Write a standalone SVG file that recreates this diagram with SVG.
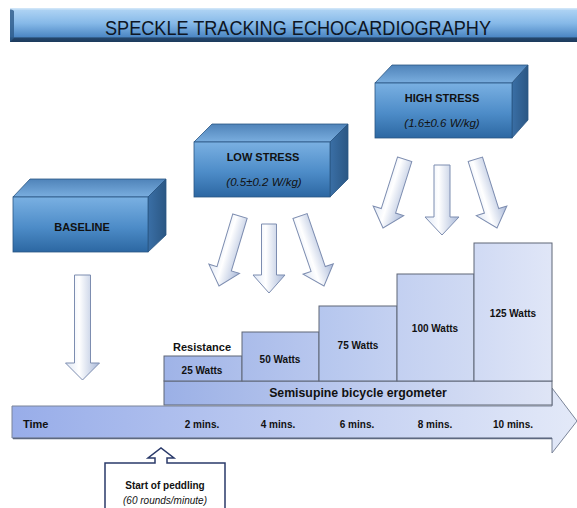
<svg xmlns="http://www.w3.org/2000/svg" width="577" height="508" viewBox="0 0 577 508">
<defs>
<linearGradient id="gTitle" x1="0" y1="0" x2="0" y2="1">
<stop offset="0" stop-color="#b3d6f5"/><stop offset="0.45" stop-color="#86b9e8"/><stop offset="0.85" stop-color="#4c87c4"/><stop offset="0.88" stop-color="#24466c"/><stop offset="1" stop-color="#1c3a5c"/>
</linearGradient>
<linearGradient id="gFront" x1="0" y1="0" x2="0" y2="1">
<stop offset="0" stop-color="#7ab0e2"/><stop offset="0.55" stop-color="#4d8cc8"/><stop offset="1" stop-color="#2c67a2"/>
</linearGradient>
<linearGradient id="gTop" x1="0" y1="1" x2="0" y2="0">
<stop offset="0" stop-color="#7aaedf"/><stop offset="1" stop-color="#4f83b9"/>
</linearGradient>
<linearGradient id="gSide" x1="0" y1="0" x2="1" y2="0">
<stop offset="0" stop-color="#3a6fa6"/><stop offset="1" stop-color="#2b5784"/>
</linearGradient>
<linearGradient id="gArrow" x1="0" y1="0" x2="1" y2="0">
<stop offset="0" stop-color="#dfe7f5"/><stop offset="0.4" stop-color="#ffffff"/><stop offset="1" stop-color="#a9b9d9"/>
</linearGradient>
<linearGradient id="gTime" x1="0" y1="0" x2="1" y2="0">
<stop offset="0" stop-color="#98ade9"/><stop offset="1" stop-color="#e3e9f8"/>
</linearGradient>
<linearGradient id="gErgo" x1="0" y1="0" x2="1" y2="0">
<stop offset="0" stop-color="#9bb0e6"/><stop offset="1" stop-color="#dfe5f6"/>
</linearGradient>
<linearGradient id="gS1" x1="0" y1="0" x2="1" y2="0"><stop offset="0" stop-color="#9fb3e7"/><stop offset="1" stop-color="#aebfeb"/></linearGradient>
<linearGradient id="gS2" x1="0" y1="0" x2="1" y2="0"><stop offset="0" stop-color="#aabcea"/><stop offset="1" stop-color="#b8c7ee"/></linearGradient>
<linearGradient id="gS3" x1="0" y1="0" x2="1" y2="0"><stop offset="0" stop-color="#b5c6ee"/><stop offset="1" stop-color="#c4d1f1"/></linearGradient>
<linearGradient id="gS4" x1="0" y1="0" x2="1" y2="0"><stop offset="0" stop-color="#c3d0f1"/><stop offset="1" stop-color="#d0daf3"/></linearGradient>
<linearGradient id="gS5" x1="0" y1="0" x2="1" y2="0"><stop offset="0" stop-color="#d0daf4"/><stop offset="1" stop-color="#e0e6f7"/></linearGradient>
</defs>
<style>
text{font-family:"Liberation Sans",Arial,sans-serif;fill:#111111}
.b{font-weight:bold}
.i{font-style:italic}
.front{fill:url(#gFront);stroke:#2a5683;stroke-width:0.8}
.top{fill:url(#gTop);stroke:#2a5683;stroke-width:0.8}
.side{fill:url(#gSide);stroke:#2a5683;stroke-width:0.8}
.arr{fill:url(#gArrow);stroke:#7d8db0;stroke-width:1}
.step{stroke:#5f6677;stroke-width:1}
</style>

<g id="title">
<rect x="10" y="8" width="570" height="34" fill="url(#gTitle)"/>
<path d="M10 8 L14 11 L14 38 L10 42 Z" fill="#2d5a88" opacity="0.8"/>
<rect x="10" y="8" width="570" height="1.5" fill="#cfe5f8"/>
<text x="298" y="35" font-size="21" text-anchor="middle" textLength="386" lengthAdjust="spacingAndGlyphs" style="fill:#0e1624">SPECKLE TRACKING ECHOCARDIOGRAPHY</text>
</g>

<g id="baseline">
<polygon class="top" points="13,197 30,179 166,179 148,197"/>
<polygon class="side" points="148,197 166,179 166,235 148,252"/>
<rect class="front" x="13" y="197" width="135" height="55"/>
<text class="b" x="82" y="231" font-size="11" text-anchor="middle">BASELINE</text>
</g>

<g id="low-stress">
<polygon class="top" points="194,142 212,124 348,124 330,142"/>
<polygon class="side" points="330,142 348,124 348,179 330,197"/>
<rect class="front" x="194" y="142" width="136" height="55"/>
<text class="b" x="263" y="161" font-size="11" text-anchor="middle">LOW STRESS</text>
<text class="i" x="264" y="186" font-size="11.5" text-anchor="middle">(0.5±0.2 W/kg)</text>
</g>

<g id="high-stress">
<polygon class="top" points="375,83 392,65 528,65 512,83"/>
<polygon class="side" points="512,83 528,65 528,120 512,138"/>
<rect class="front" x="375" y="83" width="137" height="55"/>
<text class="b" x="442" y="102" font-size="11" text-anchor="middle">HIGH STRESS</text>
<text class="i" x="442" y="127" font-size="11.5" text-anchor="middle">(1.6±0.6 W/kg)</text>
</g>

<g id="connectors">
<path class="arr" transform="translate(82.5,380)" d="M-8 -105 L8 -105 L8 -17 L17 -17 L0 0 L-17 -17 L-8 -17 Z"/>
<path class="arr" transform="translate(219,286) rotate(16.7)" d="M-7.5 -73 L7.5 -73 L7.5 -18 L16 -18 L0 0 L-16 -18 L-7.5 -18 Z"/>
<path class="arr" transform="translate(269,293)" d="M-7.5 -69 L7.5 -69 L7.5 -18 L16 -18 L0 0 L-16 -18 L-7.5 -18 Z"/>
<path class="arr" transform="translate(324,286) rotate(-18.9)" d="M-7.5 -74 L7.5 -74 L7.5 -18 L16 -18 L0 0 L-16 -18 L-7.5 -18 Z"/>
<path class="arr" transform="translate(383,228) rotate(17.5)" d="M-7.5 -72 L7.5 -72 L7.5 -18 L16 -18 L0 0 L-16 -18 L-7.5 -18 Z"/>
<path class="arr" transform="translate(442,235)" d="M-8 -70 L8 -70 L8 -18 L17 -18 L0 0 L-17 -18 L-8 -18 Z"/>
<path class="arr" transform="translate(497,228) rotate(-17.5)" d="M-7.5 -72 L7.5 -72 L7.5 -18 L16 -18 L0 0 L-16 -18 L-7.5 -18 Z"/>
</g>

<g id="time-axis">
<polygon points="12,406 552,406 552,388 577,421 552,453 552,438 12,438" fill="url(#gTime)" stroke="#7a8499" stroke-width="1"/>
<line x1="13" y1="438.5" x2="552" y2="438.5" stroke="#5d6880" stroke-width="1.5"/>
<text class="b" x="23" y="428" font-size="11">Time</text>
<text class="b" x="202" y="428" font-size="10" text-anchor="middle">2 mins.</text>
<text class="b" x="278" y="428" font-size="10" text-anchor="middle">4 mins.</text>
<text class="b" x="357" y="428" font-size="10" text-anchor="middle">6 mins.</text>
<text class="b" x="435" y="428" font-size="10" text-anchor="middle">8 mins.</text>
<text class="b" x="513" y="428" font-size="10" text-anchor="middle">10 mins.</text>
</g>

<g id="ergometer">
<rect class="step" x="164" y="381" width="388" height="24" fill="url(#gErgo)"/>
<text class="b" x="358" y="397" font-size="12.3" text-anchor="middle">Semisupine bicycle ergometer</text>
</g>

<g id="step-25">
<rect class="step" x="164" y="356" width="78" height="25" fill="url(#gS1)"/>
<text class="b" x="202" y="351" font-size="11" text-anchor="middle">Resistance</text>
<text class="b" x="202" y="374" font-size="10" text-anchor="middle">25 Watts</text>
</g>
<g id="step-50">
<rect class="step" x="242" y="332" width="77" height="49" fill="url(#gS2)"/>
<text class="b" x="280" y="363" font-size="10" text-anchor="middle">50 Watts</text>
</g>
<g id="step-75">
<rect class="step" x="319" y="306" width="78" height="75" fill="url(#gS3)"/>
<text class="b" x="358" y="349" font-size="10" text-anchor="middle">75 Watts</text>
</g>
<g id="step-100">
<rect class="step" x="397" y="274" width="77" height="107" fill="url(#gS4)"/>
<text class="b" x="435" y="332" font-size="10" text-anchor="middle">100 Watts</text>
</g>
<g id="step-125">
<rect class="step" x="474" y="243" width="78" height="138" fill="url(#gS5)"/>
<text class="b" x="513" y="317" font-size="10" text-anchor="middle">125 Watts</text>
</g>

<g id="start">
<path d="M105 463 H155 V458 H148 L161 448 L174 458 H167 V463 H225 V520 H105 Z" fill="#ffffff" stroke="#2a3a6a" stroke-width="1.5"/>
<text class="b" x="165" y="489" font-size="10" text-anchor="middle">Start of peddling</text>
<text class="i" x="165" y="504" font-size="10" text-anchor="middle">(60 rounds/minute)</text>
</g>
</svg>
